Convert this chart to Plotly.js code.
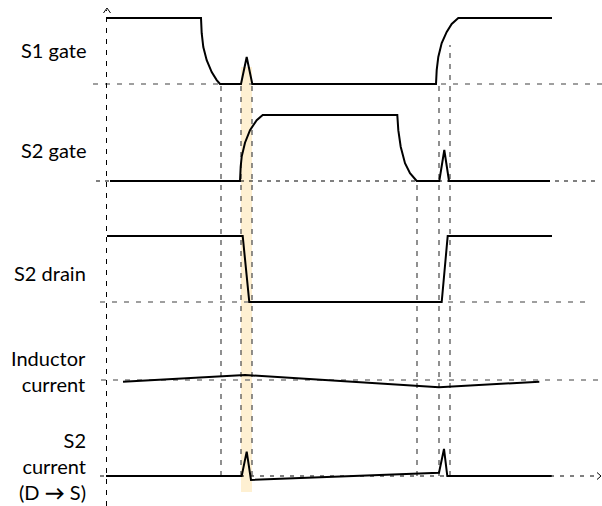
<!DOCTYPE html>
<html>
<head>
<meta charset="utf-8">
<script src="https://cdn.plot.ly/plotly-3.0.1.min.js"></script>
<style>
  html, body { margin: 0; padding: 0; background: #ffffff; }
  #chart { width: 602px; height: 506px; }
</style>
</head>
<body>
<div id="chart"></div>
<script>
// ---- Data: time (arbitrary units) and normalized signal levels (1 = high, 0 = baseline) ----
const rowLabels = ["S1 gate", "S2 gate", "S2 drain", "Inductor<br>current", "S2<br>current<br>(D <b>\u2192</b> S)"];

const s1GateT = [0, 95, 95.7, 97.3, 100.7, 105.7, 110.7, 114, 135, 140.7, 146.3, 330, 330.7, 332.3, 335.7, 340.7, 345.7, 352.3, 446];
const s1GateV = [1, 1, 0.77, 0.56, 0.36, 0.18, 0.06, 0, 0, 0.41, 0, 0, 0.21, 0.41, 0.62, 0.79, 0.91, 1, 1];

const s2GateT = [4, 134, 134.7, 135.7, 139, 144, 150.7, 156.7, 291.3, 292.3, 294.7, 299, 304, 310.7, 333.3, 338.3, 343, 444];
const s2GateV = [0, 0, 0.22, 0.37, 0.58, 0.77, 0.92, 1, 1, 0.77, 0.52, 0.27, 0.12, 0, 0, 0.47, 0, 0];

const s2DrainT = [1, 136.7, 143.3, 335.7, 341.7, 446];
const s2DrainV = [1, 1, 0, 0, 1, 1];

const indCurT = [17, 139, 333, 433.3];
const indCurV = [-0.026, 0.076, -0.11, -0.026];

const s2CurT = [0, 135.7, 140.7, 145, 333, 338, 341.3, 445.7];
const s2CurV = [0, 0, 0.37, -0.06, 0.05, 0.41, 0, 0];

// event times marked with vertical dashed guides
const eventTimes = [115, 135, 146, 311, 333, 344];
// highlighted interval (dead time)
const highlightT = [135, 146];

// ---- Layout helpers ----
const H = 506;
const rowBase = [422, 325, 204, 126, 30];  // y (up) of each row's baseline
const amp = 66;
const lvl = (row, v) => rowBase[row] + v * amp;

const signals = [
  [s1GateT, s1GateV],
  [s2GateT, s2GateV],
  [s2DrainT, s2DrainV],
  [indCurT, indCurV],
  [s2CurT, s2CurV]
];

const traces = signals.map(([t, v], i) => ({
  x: t,
  y: v.map(val => lvl(i, val)),
  mode: "lines",
  type: "scatter",
  line: { color: "#000000", width: 2 },
  hoverinfo: "skip"
}));

const gray = "#808080";
const shapes = [];
// highlight band
shapes.push({
  type: "rect", layer: "below", xref: "x", yref: "y",
  x0: highlightT[0], x1: highlightT[1], y0: H - 492, y1: H - 67,
  fillcolor: "#fef0d2", line: { width: 0 }
});
// horizontal baseline guides
const hGuides = [
  { row: 0, x0: -13, x1: 496, color: gray, dash: "5px,7px", w: 1.4 },
  { row: 1, x0: -10, x1: 494, color: "#000000", dash: "4px,5px", w: 1 },
  { row: 2, x0: -6, x1: 486, color: gray, dash: "5px,7px", w: 1.4 },
  { row: 3, x0: -5, x1: 496, color: gray, dash: "5px,7px", w: 1.4 },
  { row: 4, x0: -6, x1: 492, color: "#000000", dash: "4px,6px", w: 1 }
];
hGuides.forEach(g => shapes.push({
  type: "line", layer: "below", xref: "x", yref: "y",
  x0: g.x0, x1: g.x1, y0: rowBase[g.row], y1: rowBase[g.row],
  line: { color: g.color, width: g.w, dash: g.dash }
}));
// vertical time axis
shapes.push({
  type: "line", layer: "below", xref: "x", yref: "y",
  x0: 0.5, x1: 0.5, y0: 0, y1: H - 10,
  line: { color: "#000000", width: 1, dash: "5px,6px" }
});
// vertical event guides
const vTop = [rowBase[0], rowBase[0], rowBase[0], rowBase[1], rowBase[0], lvl(0, 0.59)];
eventTimes.forEach((t, i) => shapes.push({
  type: "line", layer: "below", xref: "x", yref: "y",
  x0: t, x1: t, y0: rowBase[4], y1: vTop[i],
  line: { color: "#555555", width: 1.3, dash: "5px,6px" }
}));
// arrowheads
shapes.push({
  type: "path", xref: "x", yref: "y",
  path: `M -2.5 ${H - 13} L 1 ${H - 8} L 4.5 ${H - 13}`,
  line: { color: "#000000", width: 1 }
});
shapes.push({
  type: "path", xref: "x", yref: "y",
  path: `M 491 ${rowBase[4] + 3.5} L 495 ${rowBase[4]} L 491 ${rowBase[4] - 3.5}`,
  line: { color: "#000000", width: 1 }
});

const labelCenters = [50, 150, 273, 371, 466];
const annotations = rowLabels.map((txt, i) => ({
  text: txt,
  xref: "x", yref: "y",
  x: -18, y: H - labelCenters[i],
  xanchor: "right", yanchor: "middle",
  align: "right",
  showarrow: false,
  font: { family: "Lato, 'Open Sans', sans-serif", size: 20, color: "#000000" }
}));

const layout = {
  width: 602, height: 506,
  margin: { l: 0, r: 0, t: 0, b: 0 },
  paper_bgcolor: "#ffffff", plot_bgcolor: "#ffffff",
  showlegend: false,
  xaxis: { range: [-106, 496], visible: false, fixedrange: true },
  yaxis: { range: [0, H], visible: false, fixedrange: true },
  shapes: shapes,
  annotations: annotations
};

Plotly.newPlot("chart", traces, layout, { displayModeBar: false, staticPlot: true });
</script>
</body>
</html>
